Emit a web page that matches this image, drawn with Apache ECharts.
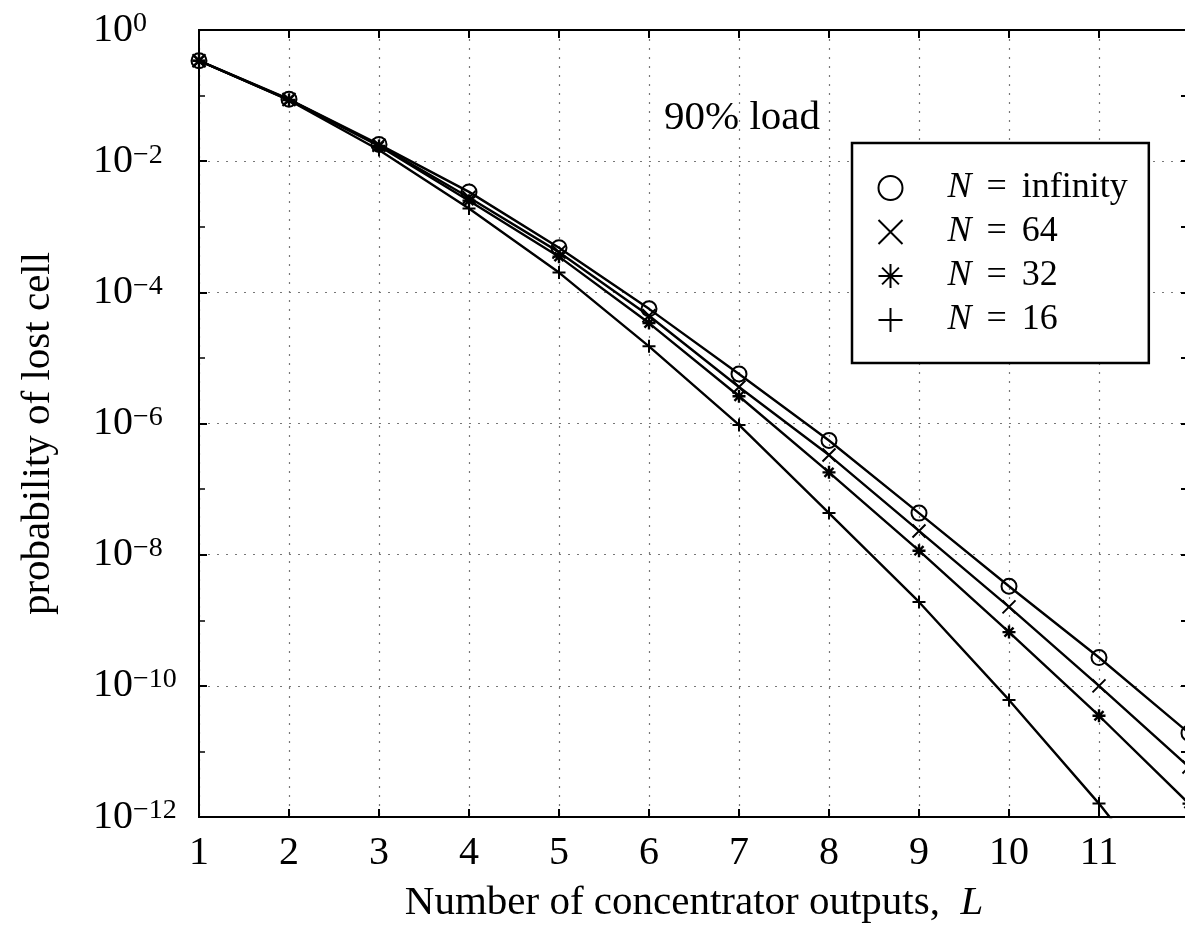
<!DOCTYPE html>
<html>
<head>
<meta charset="utf-8">
<script src="https://cdn.jsdelivr.net/npm/echarts@6/dist/echarts.min.js"></script>
<style>
  html, body { margin: 0; padding: 0; background: #fff; }
  #chart { width: 1185px; height: 928px; }
</style>
</head>
<body>
<div id="chart"></div>
<script>
var FONT = 'Liberation Serif';

// number of concentrator outputs L
var outputsL = [1, 2, 3, 4, 5, 6, 7, 8, 9, 10, 11, 12];
var seriesNames = ['N = infinity', 'N = 64', 'N = 32', 'N = 16'];
// probability of lost cell
var lossInf = [0.34, 0.088, 0.018, 3.4e-3, 4.8e-4, 5.6e-5, 5.7e-6, 5.5e-7, 4.3e-8, 3.3e-9, 2.7e-10, 1.9e-11];
var loss64  = [0.34, 0.087, 0.0175, 2.8e-3, 4.1e-4, 4.4e-5, 3.6e-6, 3.3e-7, 2.3e-8, 1.6e-9, 1.0e-10, 5.8e-12];
var loss32  = [0.34, 0.086, 0.017, 2.5e-3, 3.5e-4, 3.4e-5, 2.6e-6, 1.8e-7, 1.15e-8, 6.6e-10, 3.5e-11, 1.6e-12];
var loss16  = [0.34, 0.085, 0.0148, 1.9e-3, 2.0e-4, 1.5e-5, 9.5e-7, 4.3e-8, 1.9e-9, 6.1e-11, 1.6e-12, 3e-14];

var symbols = [
  'circle',
  'path://M0,0 L10,10 M10,0 L0,10',
  'path://M0,5 L10,5 M5,0 L5,10 M1.5,1.5 L8.5,8.5 M8.5,1.5 L1.5,8.5',
  'path://M0,5 L10,5 M5,0 L5,10'
];
var allData = [lossInf, loss64, loss32, loss16];

function pairs(ys) {
  return outputsL.map(function (x, i) { return [x, ys[i]]; });
}

var series = allData.map(function (ys, i) {
  return {
    name: seriesNames[i],
    type: 'line',
    data: pairs(ys),
    symbol: symbols[i],
    symbolSize: i === 0 ? 15 : 13,
    lineStyle: { color: '#000', width: 2.4 },
    itemStyle: { color: 'none', borderColor: '#000', borderWidth: i === 2 ? 2.4 : 2 },
    emphasis: { disabled: true },
    z: 3
  };
});

var dotted = { show: true, lineStyle: { color: '#777', width: 1.2, type: [2, 7] } };

var option = {
  animation: false,
  backgroundColor: '#fff',
  title: {
    text: '90% load',
    left: 664, top: 98, padding: 0,
    textStyle: { fontFamily: FONT, fontSize: 41, fontWeight: 'normal', color: '#000' }
  },
  grid: {
    left: 199, width: 990, top: 30, bottom: 111,
    outerBoundsMode: 'none', containLabel: false,
    show: true, borderColor: '#000', borderWidth: 2
  },
  legend: {
    orient: 'vertical',
    left: 852, top: 143,
    backgroundColor: '#fff',
    borderColor: '#000', borderWidth: 2.5,
    padding: [27, 21, 25, 24],
    itemWidth: 24, itemHeight: 24, itemGap: 8,
    selectedMode: false,
    data: seriesNames.map(function (n, i) { return { name: n, icon: symbols[i] }; }),
    formatter: function (n) { return '{i|N}{e|=}' + n.replace('N = ', ''); },
    textStyle: {
      fontFamily: FONT, fontSize: 36, color: '#000',
      rich: {
        i: { fontFamily: FONT, fontSize: 36, fontStyle: 'italic', padding: [0, 0, 0, 40] },
        e: { fontFamily: FONT, fontSize: 36, padding: [0, 15, 0, 15] }
      }
    }
  },
  xAxis: [{
    type: 'value', min: 1, max: 12, interval: 1, position: 'bottom',
    name: 'Number of concentrator outputs,  {i|L}',
    nameLocation: 'middle', nameGap: 66,
    nameTextStyle: {
      fontFamily: FONT, fontSize: 41, color: '#000',
      rich: { i: { fontFamily: FONT, fontSize: 41, fontStyle: 'italic' } }
    },
    axisLine: { show: true, lineStyle: { color: '#000', width: 2 } },
    axisTick: { show: true, inside: true, length: 8, lineStyle: { color: '#000', width: 2 } },
    axisLabel: {
      margin: 16, fontFamily: FONT, fontSize: 40, color: '#000',
      formatter: function (v) { return v === 12 ? '' : String(v); }
    },
    splitLine: dotted
  }, {
    type: 'value', min: 1, max: 12, interval: 1, position: 'top',
    axisLine: { show: true, lineStyle: { color: '#000', width: 2 } },
    axisTick: { show: true, inside: true, length: 8, lineStyle: { color: '#000', width: 2 } },
    axisLabel: { show: false },
    splitLine: { show: false }
  }],
  yAxis: [{
    type: 'log', logBase: 10, min: 1e-12, max: 1, interval: 2, position: 'left',
    name: 'probability of lost cell',
    nameLocation: 'middle', nameGap: 140,
    nameTextStyle: { fontFamily: FONT, fontSize: 41, color: '#000', padding: [0, 0, 0, -20] },
    axisLine: { show: true, lineStyle: { color: '#000', width: 2 } },
    axisTick: { show: true, inside: true, length: 8, lineStyle: { color: '#000', width: 2 } },
    axisLabel: {
      margin: 106, align: 'left', color: '#000',
      formatter: function (v) {
        var e = Math.round(Math.log10(v));
        return '{b|10}{s|' + (e < 0 ? '\u2212' + (-e) : e) + '}';
      },
      rich: {
        b: { fontFamily: FONT, fontSize: 40, lineHeight: 40, color: '#000' },
        s: { fontFamily: FONT, fontSize: 28, lineHeight: 20, verticalAlign: 'top', color: '#000' }
      }
    },
    splitLine: dotted
  }, {
    type: 'log', logBase: 10, min: 1e-12, max: 1, interval: 1, position: 'left',
    axisLine: { show: false },
    axisTick: { show: true, inside: true, length: 6, lineStyle: { color: '#000', width: 1.5 } },
    axisLabel: { show: false },
    splitLine: { show: false }
  }, {
    type: 'log', logBase: 10, min: 1e-12, max: 1, interval: 1, position: 'right',
    axisLine: { show: true, lineStyle: { color: '#000', width: 2 } },
    axisTick: { show: true, inside: true, length: 8, lineStyle: { color: '#000', width: 2 } },
    axisLabel: { show: false },
    splitLine: { show: false }
  }],
  series: series
};

var myChart = echarts.init(document.getElementById('chart'));
myChart.setOption(option);
</script>
</body>
</html>
